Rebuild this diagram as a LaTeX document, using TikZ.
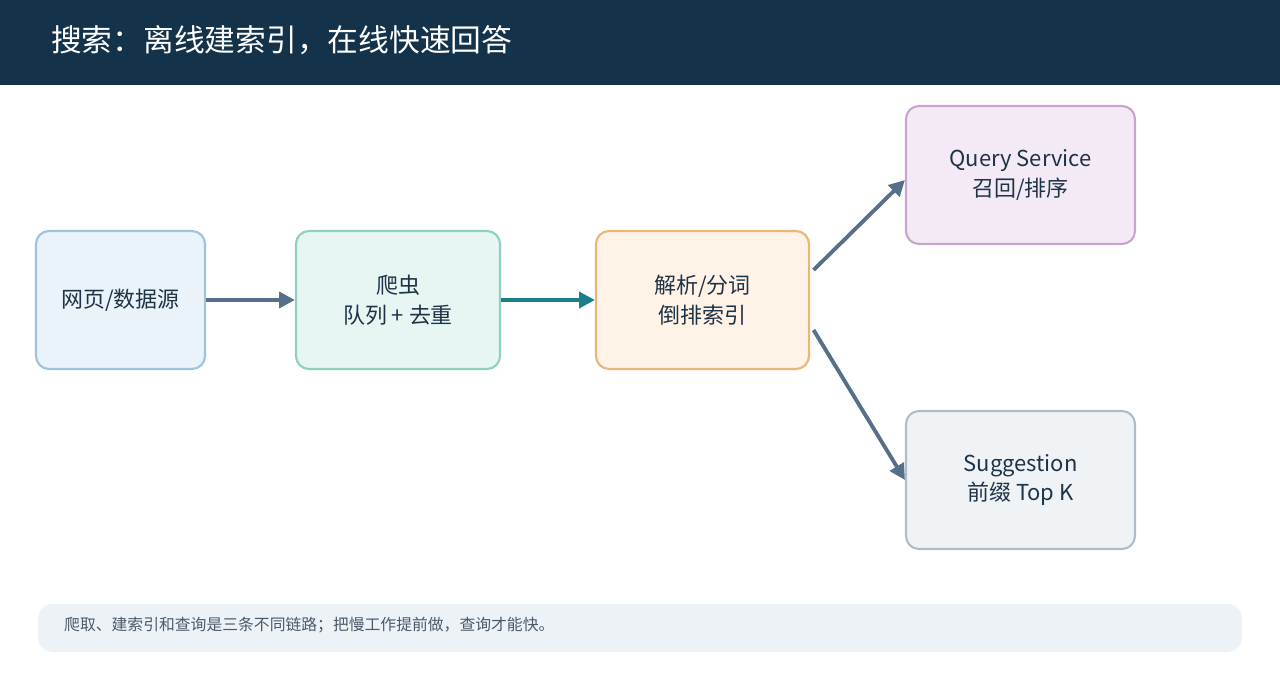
\documentclass[tikz,border=0pt]{standalone}
\usepackage{fontspec}
\setmainfont{Noto Sans CJK SC}
\usetikzlibrary{positioning}
\usetikzlibrary{arrows.meta}
\definecolor{hdr}{HTML}{14334B}
\definecolor{ink}{HTML}{1F3347}
\definecolor{flow}{HTML}{56708A}
\definecolor{teal}{HTML}{1A7F8A}
\definecolor{srcline}{HTML}{9DC3E0}\definecolor{srcfill}{HTML}{EAF2FA}
\definecolor{crawlline}{HTML}{8ED0C2}\definecolor{crawlfill}{HTML}{E8F6F3}
\definecolor{idxline}{HTML}{E8B678}\definecolor{idxfill}{HTML}{FEF3E6}
\definecolor{qline}{HTML}{C7A5CF}\definecolor{qfill}{HTML}{F4EAF5}
\definecolor{sline}{HTML}{B0BDC8}\definecolor{sfill}{HTML}{EFF3F6}
\definecolor{notefill}{HTML}{EDF2F6}\definecolor{notetext}{HTML}{4A5A6A}

\begin{document}
\begin{tikzpicture}[
  x=0.02cm, y=-0.02cm,
  box/.style = {rounded corners=0.26cm, line width=1.2pt, align=center,
    text=ink, font=\fontsize{12.5}{17}\selectfont, inner sep=0pt,
    minimum height=138*0.02cm},
  link/.style = {line width=2.2pt, draw=flow, -{Triangle[length=9pt,width=9pt]}}
]

  \useasboundingbox (0,0) rectangle (1280,680);
  \fill[hdr] (0,0) rectangle (1280,85);
  \node[anchor=west, text=white, font=\fontsize{17.5}{20}\selectfont] (title) at (45,40) {搜索：离线建索引，在线快速回答};

  \node[box, draw=srcline, fill=srcfill, minimum width=169*0.02cm] (src) at (120.5,300) {网页/数据源};
  \node[box, draw=crawlline, fill=crawlfill, minimum width=204*0.02cm] (crawl) at (398,300) {爬虫\\队列 + 去重};
  \node[box, draw=idxline, fill=idxfill, minimum width=213*0.02cm] (index) at (702.5,300) {解析/分词\\倒排索引};
  \node[box, draw=qline, fill=qfill, minimum width=229*0.02cm] (query) at (1020.5,175) {Query Service\\召回/排序};
  \node[box, draw=sline, fill=sfill, minimum width=229*0.02cm] (sugg) at (1020.5,480) {Suggestion\\前缀 Top K};

  \draw[link] (src) -- (crawl);
  \draw[link, draw=teal] (crawl) -- (index);
  \draw[link] ([xshift=2pt,yshift=0.6cm]index.east) -- ([yshift=-0.1cm]query.west);
  \draw[link] ([xshift=2pt,yshift=-0.6cm]index.east) -- (sugg.west);

  \fill[rounded corners=0.3cm, fill=notefill] (38,604) rectangle (1242,652);
  \node[anchor=west, text=notetext, font=\fontsize{9}{11}\selectfont] (note) at (58,625) {爬取、建索引和查询是三条不同链路；把慢工作提前做，查询才能快。};

\end{tikzpicture}
\end{document}
